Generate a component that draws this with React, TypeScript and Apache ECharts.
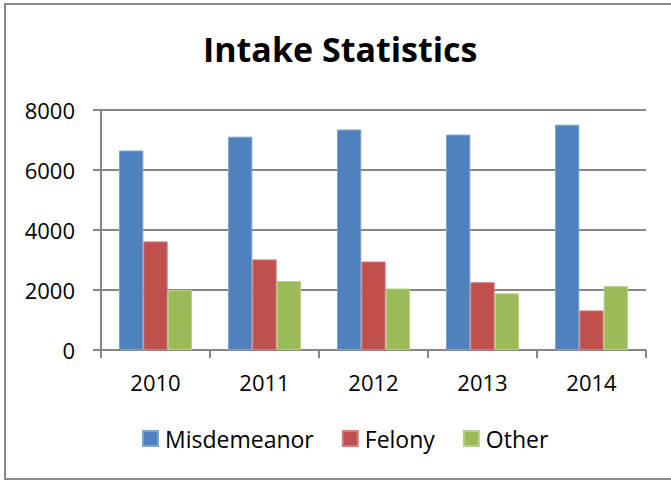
import React, { useEffect, useRef } from "react";
import * as echarts from "echarts";

const categories = ["2010", "2011", "2012", "2013", "2014"];
const misdemeanor = [6650, 7110, 7350, 7180, 7510];
const felony = [3620, 3020, 2950, 2260, 1320];
const other = [2000, 2300, 2050, 1890, 2130];
const yTicks = { min: 0, max: 8000, interval: 2000 };

const FONT = "'Open Sans', sans-serif";

export default function App() {
  const ref = useRef<HTMLDivElement>(null);
  useEffect(() => {
    document.body.style.margin = "0";
    const chart = echarts.init(ref.current!, null, { renderer: "svg" });
    const mk = (name: string, data: number[], color: string, border: string) => ({
      name,
      type: "bar",
      data,
      barGap: "0%",
      barCategoryGap: "33%",
      itemStyle: { color, borderColor: border, borderWidth: 1 },
    });
    chart.setOption({
      animation: false,
      backgroundColor: "#fff",
      title: {
        text: "Intake Statistics",
        left: 198,
        top: 27,
        textStyle: { fontFamily: FONT, fontSize: 34, fontWeight: "bold", color: "#000" },
      },
      legend: {
        bottom: 26,
        left: 137,
        itemWidth: 15,
        itemHeight: 15,
        itemGap: 28,
        icon: "rect",
        textStyle: { fontFamily: FONT, fontSize: 23, color: "#000", padding: [0, 0, 0, 2] },
        data: ["Misdemeanor", "Felony", "Other"],
      },
      grid: { left: 101, right: 25, top: 110, bottom: 131 },
      xAxis: {
        type: "category",
        data: categories,
        axisLine: { lineStyle: { color: "#868686", width: 2 } },
        axisTick: { show: true, length: 8, lineStyle: { color: "#868686", width: 2 } },
        axisLabel: { fontFamily: FONT, fontSize: 22, color: "#000", margin: 21 },
      },
      yAxis: {
        type: "value",
        min: yTicks.min,
        max: yTicks.max,
        interval: yTicks.interval,
        axisLine: { show: true, lineStyle: { color: "#868686", width: 2 } },
        axisTick: { show: true, length: 8, lineStyle: { color: "#868686", width: 2 } },
        axisLabel: {
          fontFamily: FONT,
          fontSize: 22,
          color: "#000",
          margin: 26,
          formatter: (v: number) => String(v),
        },
        splitLine: { lineStyle: { color: "#868686", width: 2 } },
      },
      graphic: [
        {
          type: "rect",
          shape: { x: 5, y: 4, width: 700, height: 475 },
          style: { fill: "none", stroke: "#898989", lineWidth: 2 },
          silent: true,
        },
      ],
      series: [
        mk("Misdemeanor", misdemeanor, "#4F81BD", "#7FA3D1"),
        mk("Felony", felony, "#C0504D", "#D47C79"),
        mk("Other", other, "#9BBB59", "#B8D08A"),
      ],
    });
    return () => chart.dispose();
  }, []);
  return <div ref={ref} style={{ width: 671, height: 481 }} />;
}
